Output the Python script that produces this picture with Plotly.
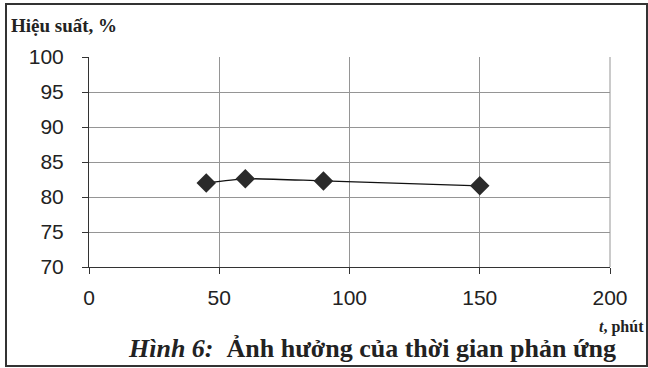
import plotly.graph_objects as go

t_min = [45, 60, 90, 150]
yield_pct = [82.0, 82.6, 82.3, 81.6]
x_ticks = [0, 50, 100, 150, 200]
y_ticks = [70, 75, 80, 85, 90, 95, 100]

W, H = 648, 368
L, R, T, B = 89, 610, 57, 267
pw, ph = R - L, B - T

def px(x):
    return (x - L) / pw

def py(y):
    return (B - y) / ph

fig = go.Figure()
fig.add_trace(go.Scatter(
    x=t_min, y=yield_pct, mode="lines+markers",
    line=dict(color="#111", width=1.3, shape="spline", smoothing=0.6),
    marker=dict(symbol="diamond", size=15, color="#2a2a2a"),
    showlegend=False,
))

axis_common = dict(
    showline=True, linecolor="#333", linewidth=1,
    showgrid=True, gridcolor="#959595", gridwidth=1,
    ticks="outside", tickcolor="#333", ticklen=6,
    tickfont=dict(family="Liberation Sans", size=21, color="#222"),
    zeroline=False,
)

fig.update_layout(
    width=W, height=H,
    margin=dict(l=L, r=W - R, t=T, b=H - B),
    paper_bgcolor="white", plot_bgcolor="white",
    xaxis=dict(range=[0, 200], tickvals=x_ticks, ticklabelstandoff=6, **axis_common),
    yaxis=dict(range=[70, 100], tickvals=y_ticks, ticklabelstandoff=14, **axis_common),
    shapes=[
        dict(type="rect", xref="paper", yref="paper",
             x0=px(6), x1=px(647), y0=py(366), y1=py(4),
             line=dict(color="#333", width=2), layer="below"),
        dict(type="line", xref="paper", yref="paper",
             x0=1, x1=1, y0=0, y1=1, line=dict(color="#959595", width=1)),
    ],
    annotations=[
        dict(text="<b>Hiệu suất, %</b>", xref="paper", yref="paper",
             x=px(9), y=py(25), xanchor="left", yanchor="middle", showarrow=False,
             font=dict(family="Liberation Serif", size=19, color="#222")),
        dict(text="<b><i>t</i>, phút</b>", xref="paper", yref="paper",
             x=px(646), y=py(327), xanchor="right", yanchor="middle", showarrow=False,
             font=dict(family="Liberation Serif", size=16, color="#222")),
        dict(text="<b><i>Hình 6:</i>  Ảnh hưởng của thời gian phản ứng</b>", xref="paper", yref="paper",
             x=px(372), y=py(348), xanchor="center", yanchor="middle", showarrow=False,
             font=dict(family="Liberation Serif", size=26, color="#222")),
    ],
)

fig.write_html("out.html", config={"displayModeBar": False},
               post_script="document.body.style.margin='0';document.body.style.overflow='hidden';")
